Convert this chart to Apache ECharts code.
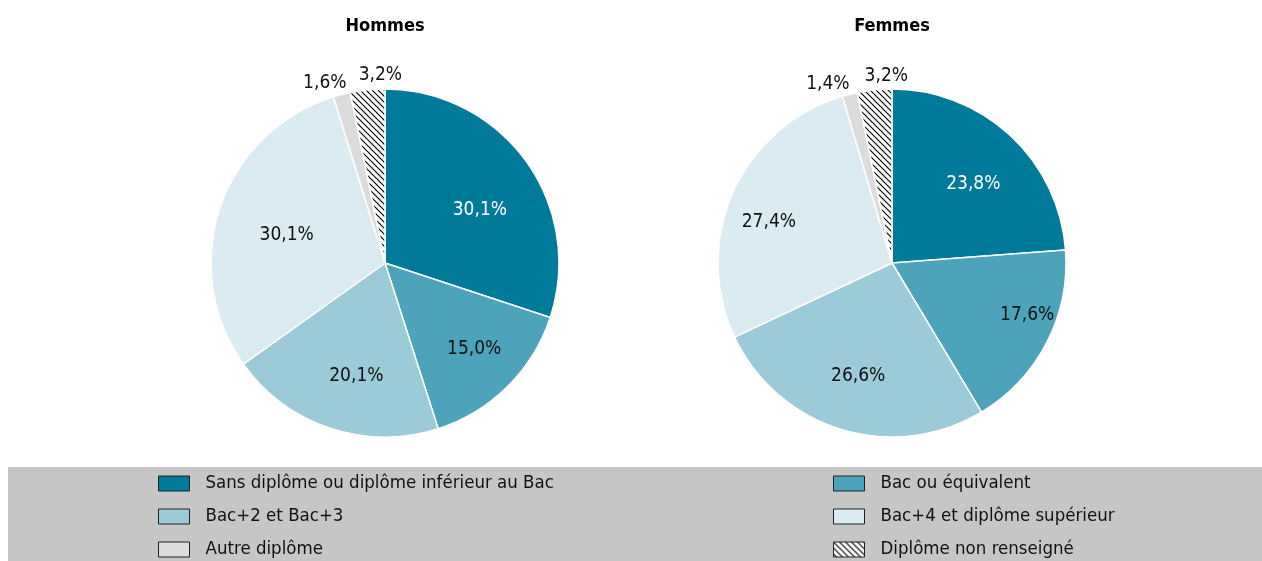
<!DOCTYPE html>
<html>
<head>
<meta charset="utf-8">
<script src="https://cdn.jsdelivr.net/npm/echarts@6/dist/echarts.min.js"></script>
<style>
html,body{margin:0;padding:0;background:#fff;}
#chart{width:1262px;height:561px;}
</style>
</head>
<body>
<div id="chart"></div>
<script>
const categories = ['Sans diplôme ou diplôme inférieur au Bac','Bac ou équivalent','Bac+2 et Bac+3','Bac+4 et diplôme supérieur','Autre diplôme','Diplôme non renseigné'];
const hommes = [30.1, 15.0, 20.1, 30.1, 1.6, 3.2];
const femmes = [23.8, 17.6, 26.6, 27.4, 1.4, 3.2];
const titles = ['Hommes', 'Femmes'];
const colors = ['#007A9B', '#4CA3BA', '#9BCAD8', '#DAEBF1', '#DCDCDC', null];
const labelColors = ['#fff', '#111', '#111', '#111', '#111', '#111'];
const smallIdx = [4, 5];

const FONT = "'DejaVu Sans Condensed', 'Liberation Sans Narrow', sans-serif";
const fmt = v => v.toFixed(1).replace('.', ',') + '%';
const centers = [[385, 263], [892, 263]];
const R = 174;

// hatch pattern "\\\\"
function makeHatch() {
  const s = 6;
  const c = document.createElement('canvas');
  c.width = s; c.height = s;
  const g = c.getContext('2d');
  g.fillStyle = '#fff'; g.fillRect(0, 0, s, s);
  g.strokeStyle = '#000'; g.lineWidth = 1.1;
  g.beginPath();
  g.moveTo(-1, -1); g.lineTo(s + 1, s + 1);
  g.moveTo(-1, s - 1); g.lineTo(1, s + 1);
  g.moveTo(s - 1, -1); g.lineTo(s + 1, 1);
  g.stroke();
  return { image: c, repeat: 'repeat' };
}
const hatchFill = makeHatch();

// label fine offsets (style tweaks)
const insideOffsets = [
  { 0: [-2, 17], 1: [5, 1], 2: [9, 0], 3: [15, 10] },
  { 0: [0, 9], 1: [29, -3], 2: [1, -1], 3: [-14, 8] }
];
const outsideOffsets = [
  { 4: [-9, 0], 5: [19, -3] },
  { 4: [-14, 2], 5: [18, -2] }
];

function mainData(vals) {
  return vals.map((v, i) => ({
    name: categories[i], value: v,
    itemStyle: { color: i === 5 ? hatchFill : colors[i] },
    label: { show: smallIdx.includes(i) }
  }));
}
function overlayData(vals) {
  return vals.map((v, i) => ({
    name: categories[i], value: v,
    label: { show: !smallIdx.includes(i), color: labelColors[i] }
  }));
}

const series = [];
[hommes, femmes].forEach((vals, k) => {
  series.push({
    type: 'pie', center: centers[k], radius: [0, R], startAngle: 90, clockwise: true,
    avoidLabelOverlap: false, silent: true,
    itemStyle: { borderColor: '#fff', borderWidth: 1.5 },
    label: { position: 'outside', formatter: p => fmt(p.value), fontFamily: FONT, fontSize: 19, color: '#111' },
    labelLine: { show: false, length: 12, length2: 0 },
    labelLayout: function (p) {
      const o = outsideOffsets[k][p.dataIndex] || [0, 0];
      return { align: 'center', dx: o[0], dy: o[1] };
    },
    data: mainData(vals)
  });
});
[hommes, femmes].forEach((vals, k) => {
  series.push({
    type: 'pie', center: centers[k], radius: [0, R * 1.34], startAngle: 90, clockwise: true,
    silent: true, legendHoverLink: false, avoidLabelOverlap: false,
    itemStyle: { color: 'rgba(0,0,0,0)', borderWidth: 0 },
    label: { position: 'inside', formatter: p => fmt(p.value), fontFamily: FONT, fontSize: 19 },
    labelLine: { show: false },
    labelLayout: function (p) {
      const o = insideOffsets[k][p.dataIndex] || [0, 0];
      return { dx: o[0], dy: o[1] };
    },
    emphasis: { disabled: true },
    data: overlayData(vals)
  });
});

const legendCommon = {
  orient: 'vertical', itemWidth: 31, itemHeight: 15, itemGap: 14, icon: 'rect',
  selectedMode: false, padding: 0, height: 120,
  itemStyle: { borderColor: '#222', borderWidth: 1 },
  textStyle: { fontFamily: FONT, fontSize: 18.5, color: '#111', padding: [0, 0, 0, 11] }
};

const option = {
  animation: false,
  aria: { enabled: false },
  title: titles.map((t, k) => ({
    text: t, left: centers[k][0], top: 17, textAlign: 'center', padding: 0,
    textStyle: { fontFamily: FONT, fontSize: 18, fontWeight: 'bold', color: '#000' }
  })),
  graphic: [{ type: 'rect', left: 8, top: 467, shape: { width: 1254, height: 94 }, style: { fill: '#C6C6C6' }, z: -10, silent: true }],
  legend: [
    Object.assign({}, legendCommon, { left: 158, top: 474, data: [categories[0], categories[2], categories[4]] }),
    Object.assign({}, legendCommon, { left: 833, top: 474, data: [categories[1], categories[3], categories[5]] })
  ],
  series: series
};

const chart = echarts.init(document.getElementById('chart'), null, { renderer: 'canvas' });
chart.setOption(option);
</script>
</body>
</html>
